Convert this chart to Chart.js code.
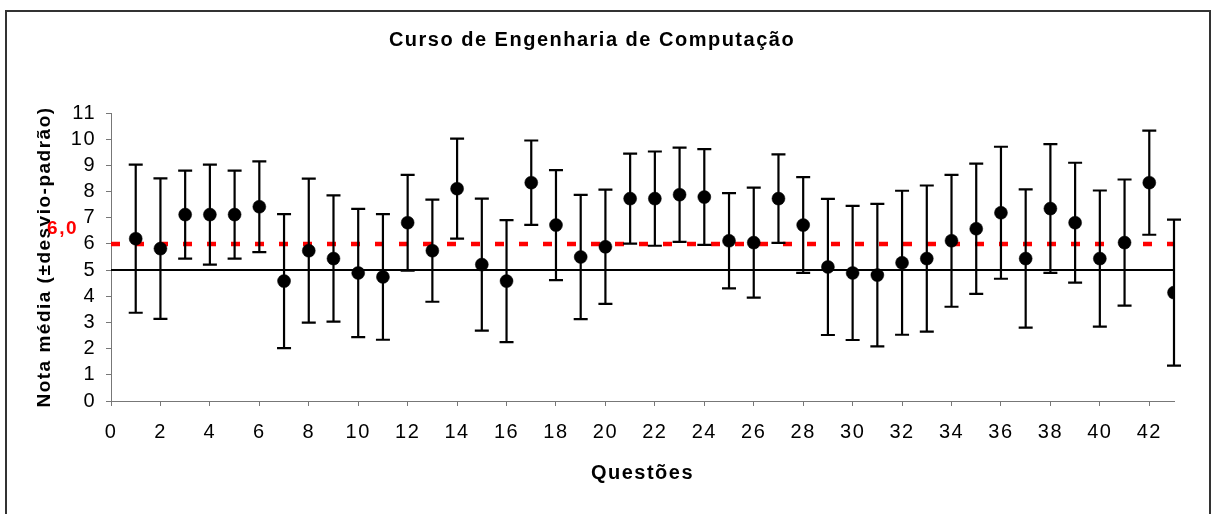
<!DOCTYPE html>
<html>
<head>
<meta charset="utf-8">
<title>Curso de Engenharia de Computação</title>
<script src="https://cdn.jsdelivr.net/npm/chart.js@4"></script>
<style>
  html, body { margin: 0; padding: 0; background: #fff; }
  canvas { display: block; }
</style>
</head>
<body>
<canvas id="chart" width="1213" height="514"></canvas>
<script>
// data

const questoes = [1, 2, 3, 4, 5, 6, 7, 8, 9, 10, 11, 12, 13, 14, 15, 16, 17, 18, 19, 20, 21,
  22, 23, 24, 25, 26, 27, 28, 29, 30, 31, 32, 33, 34, 35, 36, 37, 38, 39, 40, 41, 42, 43];

const medias = [6.20, 5.82, 7.12, 7.12, 7.12, 7.42, 4.58, 5.74, 5.44, 4.89, 4.74, 6.81, 5.74, 8.11,
  5.21, 4.58, 8.34, 6.72, 5.50, 5.89, 7.73, 7.73, 7.88, 7.79, 6.12, 6.05, 7.73, 6.72, 5.12,
  4.89, 4.81, 5.28, 5.44, 6.12, 6.58, 7.19, 5.44, 7.35, 6.81, 5.44, 6.05, 8.34, 4.14];

const desvios = [2.83, 2.68, 1.68, 1.91, 1.68, 1.73, 2.56, 2.75, 2.41, 2.45, 2.40, 1.83, 1.95, 1.91,
  2.52, 2.33, 1.61, 2.10, 2.37, 2.18, 1.72, 1.80, 1.80, 1.83, 1.82, 2.10, 1.69, 1.83, 2.60,
  2.56, 2.72, 2.75, 2.79, 2.52, 2.49, 2.52, 2.64, 2.46, 2.29, 2.60, 2.41, 1.99, 2.79];

const linhaBase = 5;     // solid black line
const linhaMeta = 6;     // red dashed line
const rotuloMeta = '6,0';
const xMin = 0, xMax = 43;
const yMin = 0, yMax = 11;

const FONT = "'Liberation Sans', Arial, sans-serif";

Chart.defaults.color = '#000';
Chart.defaults.font.family = FONT;

// Excel-ish wide text
const spacing = {
  id: 'spacing',
  beforeUpdate(chart) { chart.ctx.letterSpacing = '1.5px'; },
  beforeDraw(chart) { chart.ctx.letterSpacing = '1.5px'; }
};

// outer frame
const frame = {
  id: 'frame',
  beforeDraw(chart) {
    const ctx = chart.ctx;
    ctx.save();
    ctx.strokeStyle = '#333';
    ctx.lineWidth = 2;
    ctx.strokeRect(6, 11, 1204, 600);
    ctx.restore();
  }
};

// error bars, drawn just before the points
const errorBars = {
  id: 'errorBars',
  beforeDatasetDraw(chart, args) {
    if (args.index !== 0) return;
    const ctx = chart.ctx;
    const x = chart.scales.x, y = chart.scales.y;
    ctx.save();
    ctx.strokeStyle = '#000';
    ctx.lineWidth = 2.2;
    questoes.forEach(function (q, i) {
      const px = x.getPixelForValue(q);
      const top = y.getPixelForValue(medias[i] + desvios[i]);
      const bot = y.getPixelForValue(medias[i] - desvios[i]);
      ctx.beginPath();
      ctx.moveTo(px, top); ctx.lineTo(px, bot);
      ctx.moveTo(px - 7, top); ctx.lineTo(px + 7, top);
      ctx.moveTo(px - 7, bot); ctx.lineTo(px + 7, bot);
      ctx.stroke();
    });
    ctx.restore();
  }
};

// "6,0" label next to the red line
const metaLabel = {
  id: 'metaLabel',
  afterDatasetsDraw(chart) {
    const ctx = chart.ctx;
    const py = chart.scales.y.getPixelForValue(linhaMeta);
    ctx.save();
    ctx.fillStyle = '#ff0000';
    ctx.font = 'bold 19px ' + FONT;
    ctx.textAlign = 'right';
    ctx.textBaseline = 'alphabetic';
    ctx.fillText(rotuloMeta, chart.chartArea.left - 33, py - 10);
    ctx.restore();
  }
};

const pontos = questoes.map(function (q, i) { return { x: q, y: medias[i] }; });

new Chart(document.getElementById('chart'), {
  type: 'scatter',
  data: {
    datasets: [
      {
        label: 'Nota média',
        data: pontos,
        pointRadius: 6.5,
        pointHoverRadius: 6.5,
        backgroundColor: '#000',
        borderColor: '#000',
        borderWidth: 0.5
      },
      {
        type: 'line',
        label: 'meta',
        data: [{ x: xMin, y: linhaMeta }, { x: xMax, y: linhaMeta }],
        borderColor: '#ff0000',
        borderWidth: 4.5,
        borderDash: [9, 15],
        pointRadius: 0,
        fill: false
      },
      {
        type: 'line',
        label: 'base',
        data: [{ x: xMin, y: linhaBase }, { x: xMax, y: linhaBase }],
        borderColor: '#000',
        borderWidth: 2,
        pointRadius: 0,
        fill: false
      }
    ]
  },
  options: {
    responsive: false,
    animation: false,
    devicePixelRatio: 1,
    layout: { padding: { top: 10, left: 10, right: 39, bottom: 27 } },
    plugins: {
      legend: { display: false },
      tooltip: { enabled: false },
      title: {
        display: true,
        text: 'Curso de Engenharia de Computação',
        color: '#000',
        font: { size: 20, weight: 'bold' },
        padding: { top: 18, bottom: 61 }
      }
    },
    scales: {
      x: {
        type: 'linear',
        min: xMin,
        max: xMax,
        ticks: { stepSize: 2, includeBounds: false, autoSkip: false, padding: 14, font: { size: 20 }, color: '#000', maxRotation: 0 },
        grid: { drawOnChartArea: false, drawTicks: true, tickLength: 5, color: '#777' },
        border: { color: '#777', width: 1 },
        title: {
          display: true,
          text: 'Questões',
          color: '#000',
          font: { size: 20, weight: 'bold' },
          padding: { top: 17, bottom: 2 }
        },
        afterFit(scale) { scale.height = 86; }
      },
      y: {
        min: yMin,
        max: yMax,
        ticks: { stepSize: 1, autoSkip: false, padding: 10, font: { size: 20 }, color: '#000' },
        grid: { drawOnChartArea: false, drawTicks: true, tickLength: 5, color: '#777' },
        border: { color: '#777', width: 1 },
        title: {
          display: true,
          text: 'Nota média (±desvio-padrão)',
          color: '#000',
          font: { size: 19, weight: 'bold' },
          padding: { top: 23.6, bottom: 10 }
        },
        afterFit(scale) { scale.width = 101; }
      }
    }
  },
  plugins: [spacing, frame, errorBars, metaLabel]
});
</script>
</body>
</html>
